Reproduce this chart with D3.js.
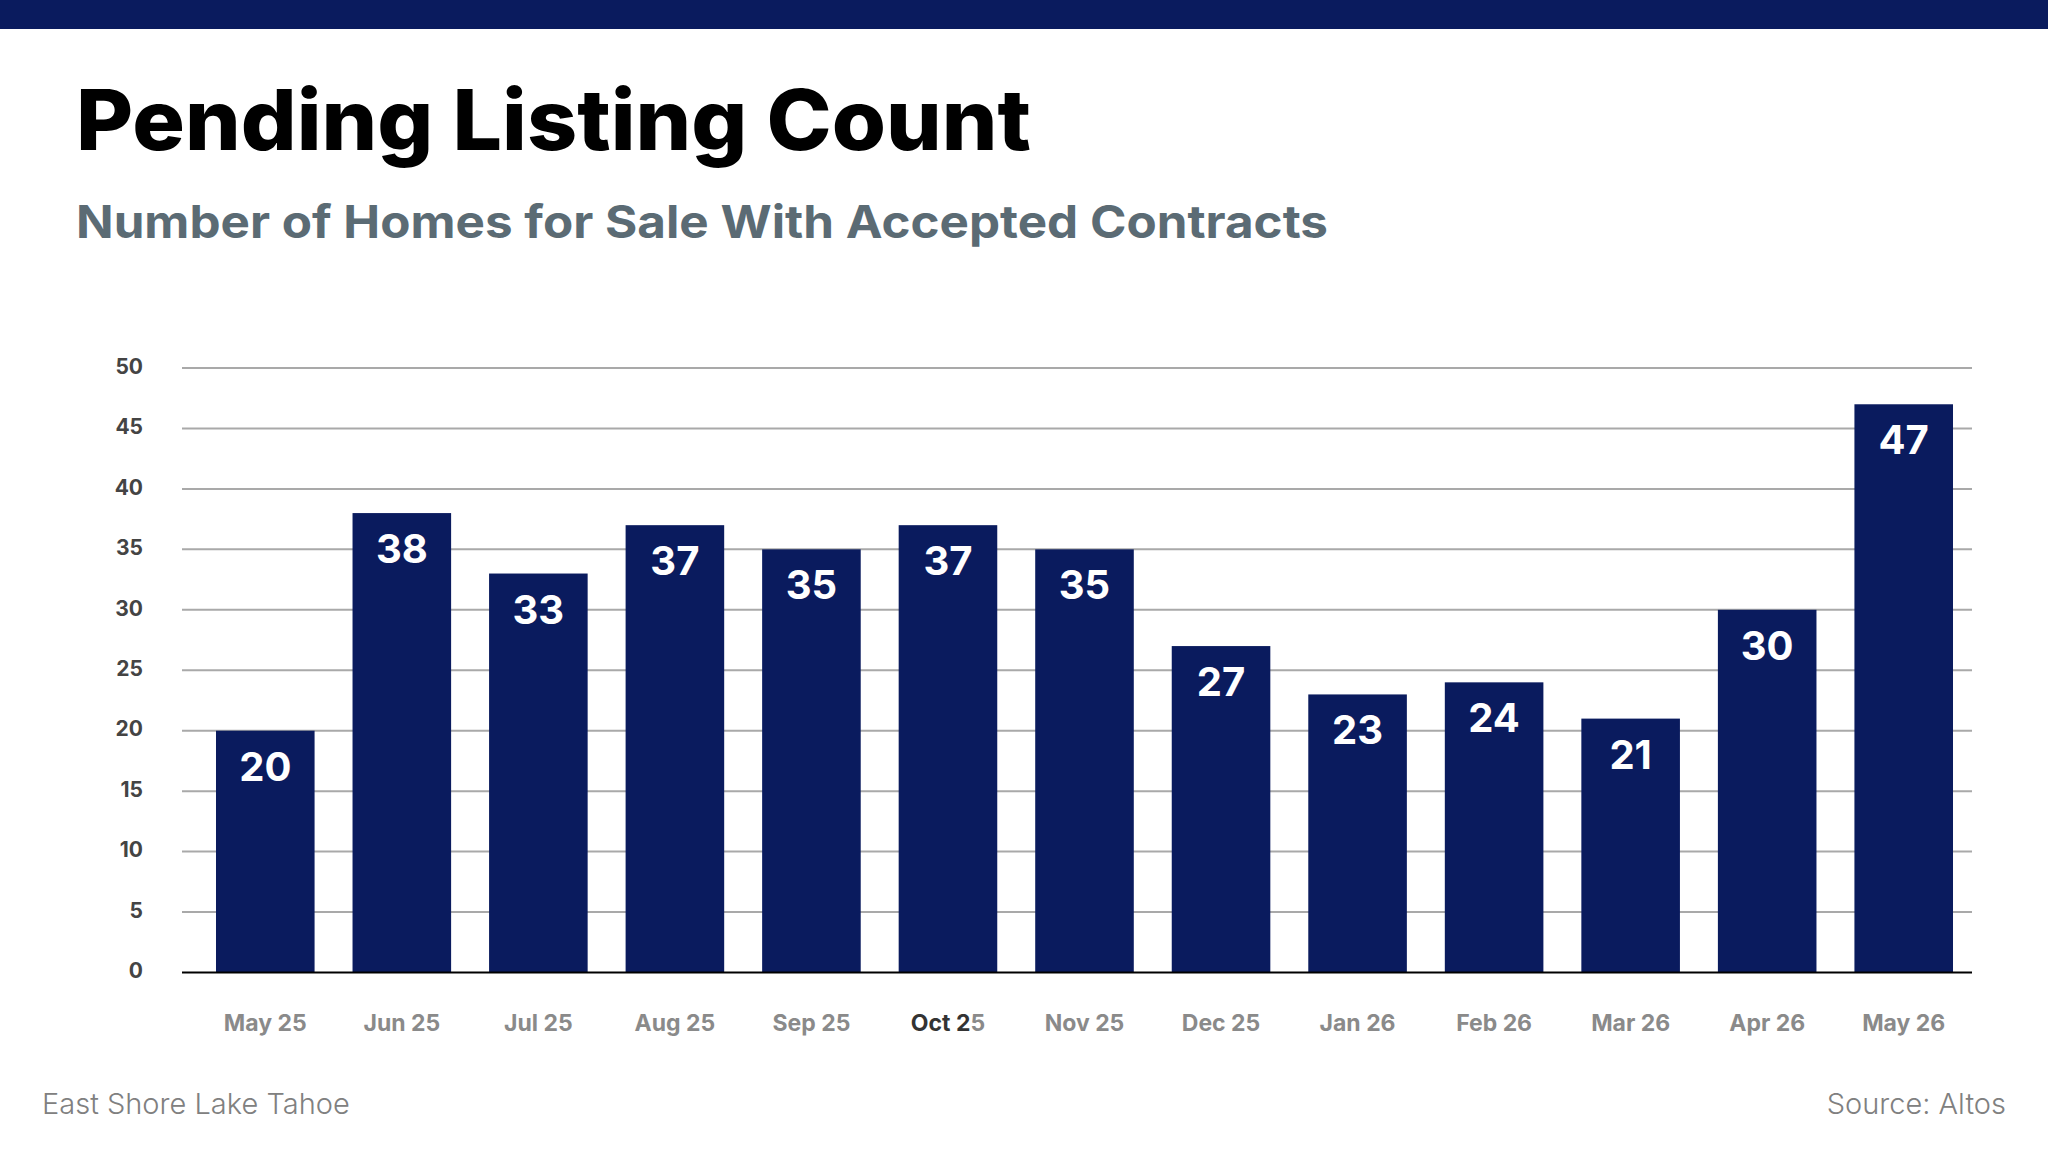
<!DOCTYPE html>
<html>
<head>
<meta charset="utf-8">
<script src="https://cdn.jsdelivr.net/npm/d3@7"></script>
<style>
  html, body { margin: 0; padding: 0; background: #fff; }
  svg { display: block; }
  text { font-family: Inter, "Open Sans", sans-serif; }
</style>
</head>
<body>
<svg id="chart" width="2048" height="1152"></svg>
<script>
const categories = ["May 25","Jun 25","Jul 25","Aug 25","Sep 25","Oct 25","Nov 25","Dec 25","Jan 26","Feb 26","Mar 26","Apr 26","May 26"];
const pendingCounts = [20, 38, 33, 37, 35, 37, 35, 27, 23, 24, 21, 30, 47];
const yTicks = [0, 5, 10, 15, 20, 25, 30, 35, 40, 45, 50];
const titleText = "Pending Listing Count";
const subtitleText = "Number of Homes for Sale With Accepted Contracts";
const footerLeft = "East Shore Lake Tahoe";
const footerRight = "Source: Altos";

const navy = "#0a1b5e";
const svg = d3.select("#chart");

// top band
svg.append("rect").attr("x", 0).attr("y", 0).attr("width", 2048).attr("height", 29).attr("fill", navy);

// titles
svg.append("text").attr("x", 76).attr("y", 150)
  .attr("font-size", 84).attr("font-weight", 800).attr("fill", "#000")
  .attr("textLength", 955).attr("lengthAdjust", "spacingAndGlyphs")
  .text(titleText);
svg.append("text").attr("x", 76).attr("y", 238)
  .attr("font-size", 45).attr("font-weight", 700).attr("fill", "#5b6b74")
  .attr("textLength", 1252).attr("lengthAdjust", "spacingAndGlyphs")
  .text(subtitleText);

// scales
const y = d3.scaleLinear().domain([0, 50]).range([972.5, 368]);
const x = d3.scaleBand().domain(categories).range([182, 1987]).paddingInner(0.278).paddingOuter(0.249);

// gridlines
svg.append("g").selectAll("line").data(yTicks.filter(d => d > 0)).join("line")
  .attr("x1", 182).attr("x2", 1972)
  .attr("y1", d => y(d)).attr("y2", d => y(d))
  .attr("stroke", "#a9a9a9").attr("stroke-width", 2);

// y axis labels
const yAxis = d3.axisLeft(y).tickValues(yTicks).tickSize(0).tickPadding(0);
const yg = svg.append("g").attr("transform", "translate(143,0)").call(yAxis);
yg.select(".domain").remove();
yg.selectAll("text")
  .attr("font-family", "Inter, sans-serif").attr("font-size", 21).attr("font-weight", 700)
  .attr("fill", "#444").attr("dy", "0.25em");

// bars
svg.append("g").selectAll("rect").data(pendingCounts).join("rect")
  .attr("x", (d, i) => x(categories[i]))
  .attr("y", d => y(d))
  .attr("width", x.bandwidth())
  .attr("height", d => y(0) - y(d))
  .attr("fill", navy);

// value labels
svg.append("g").selectAll("text").data(pendingCounts).join("text")
  .attr("x", (d, i) => x(categories[i]) + x.bandwidth() / 2)
  .attr("y", d => y(d) + 50)
  .attr("text-anchor", "middle")
  .attr("font-size", 40).attr("font-weight", 700).attr("fill", "#fff")
  .text(d => d);

// baseline
svg.append("line").attr("x1", 182).attr("x2", 1972).attr("y1", y(0)).attr("y2", y(0))
  .attr("stroke", "#000").attr("stroke-width", 2);

// x axis labels
const xAxis = d3.axisBottom(x).tickSize(0).tickPadding(0);
const xg = svg.append("g").attr("transform", "translate(0,1031)").call(xAxis);
xg.select(".domain").remove();
xg.selectAll("text")
  .attr("font-family", "Inter, sans-serif").attr("font-size", 23).attr("font-weight", 700)
  .attr("fill", "#8a8a8a").attr("dy", 0)
  .each(function(d) {
    if (d === "Oct 25") {
      const t = d3.select(this);
      t.text(null);
      t.append("tspan").attr("fill", "#333").text("Oct 2");
      t.append("tspan").text("5");
    }
  });

// footer
svg.append("text").attr("x", 42).attr("y", 1114)
  .attr("font-size", 29).attr("font-weight", 300).attr("fill", "#808080")
  .text(footerLeft);
svg.append("text").attr("x", 2006).attr("y", 1114).attr("text-anchor", "end")
  .attr("font-size", 29).attr("font-weight", 300).attr("fill", "#808080")
  .text(footerRight);
</script>
</body>
</html>
